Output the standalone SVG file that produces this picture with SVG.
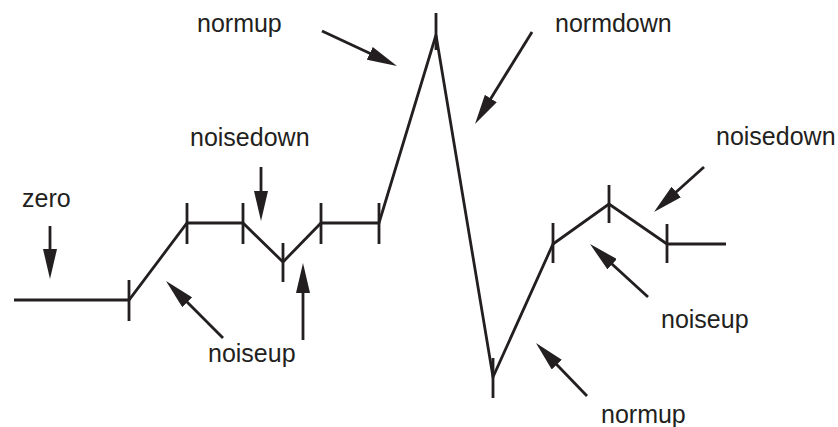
<svg xmlns="http://www.w3.org/2000/svg" width="838" height="427" viewBox="0 0 838 427">
<style>
.wave{fill:none;stroke:#231f20;stroke-width:2.8;stroke-linejoin:miter}
.tick{stroke:#231f20;stroke-width:2.8}
.arr{stroke:#231f20;stroke-width:2.8;fill:none;marker-end:url(#ah)}
.lbl{font-family:"Liberation Sans",Arial,Helvetica,sans-serif;font-size:25px;fill:#231f20}
</style>
<defs>
<marker id="ah" viewBox="0 0 30 14" refX="20" refY="7" markerWidth="30" markerHeight="14" markerUnits="userSpaceOnUse" orient="auto">
<path d="M0,0 L30,7 L0,14 z" fill="#231f20"/>
</marker>
</defs>
<rect width="838" height="427" fill="#ffffff"/>
<g id="waveform">
<polyline class="wave" points="14,300 129,300 187,223 243,223 283,262 321,223 379,223 436,35 493,377 553,244 609,204 667,244 726,244"/>
<line class="tick" x1="129" y1="280" x2="129" y2="321"/>
<line class="tick" x1="187" y1="203" x2="187" y2="244"/>
<line class="tick" x1="243" y1="203" x2="243" y2="244"/>
<line class="tick" x1="283" y1="243" x2="283" y2="282"/>
<line class="tick" x1="321" y1="203" x2="321" y2="244"/>
<line class="tick" x1="379" y1="203" x2="379" y2="244"/>
<line class="tick" x1="436" y1="13" x2="436" y2="50"/>
<line class="tick" x1="493" y1="358" x2="493" y2="398"/>
<line class="tick" x1="553" y1="223" x2="553" y2="263"/>
<line class="tick" x1="609" y1="185" x2="609" y2="223"/>
<line class="tick" x1="667" y1="224" x2="667" y2="263"/>
</g>
<g id="connectors">
<line class="arr" x1="50" y1="226" x2="50" y2="269"/>
<line class="arr" x1="261" y1="167" x2="261" y2="211"/>
<line class="arr" x1="303" y1="340" x2="303" y2="273"/>
<line class="arr" x1="223" y1="338" x2="173.1" y2="288.1"/>
<line class="arr" x1="322" y1="31" x2="387.9" y2="61.8"/>
<line class="arr" x1="532" y1="32" x2="480.3" y2="115.5"/>
<line class="arr" x1="704" y1="167" x2="661.4" y2="205.3"/>
<line class="arr" x1="648" y1="297" x2="597.4" y2="250.7"/>
<line class="arr" x1="587" y1="396" x2="542.9" y2="350.2"/>
</g>
<g id="label-zero"><text class="lbl" x="22" y="207">zero</text></g>
<g id="label-noisedown-1"><text class="lbl" x="190" y="146">noisedown</text></g>
<g id="label-noiseup-1"><text class="lbl" x="208" y="362">noiseup</text></g>
<g id="label-normup-1"><text class="lbl" x="197" y="32">normup</text></g>
<g id="label-normdown"><text class="lbl" x="555" y="32">normdown</text></g>
<g id="label-noisedown-2"><text class="lbl" x="716" y="145">noisedown</text></g>
<g id="label-noiseup-2"><text class="lbl" x="661" y="328">noiseup</text></g>
<g id="label-normup-2"><text class="lbl" x="601" y="423">normup</text></g>
</svg>
